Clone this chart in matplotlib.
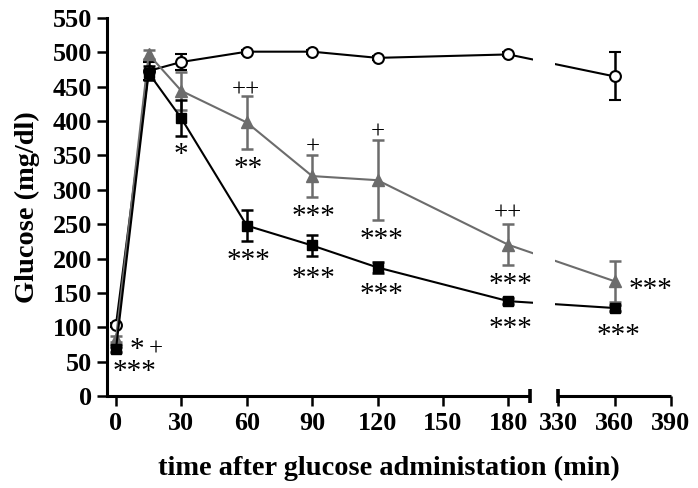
import numpy as np
import matplotlib
matplotlib.use("Agg")
import matplotlib.pyplot as plt

plt.rcParams["font.family"] = ["Liberation Serif", "DejaVu Serif"]
plt.rcParams["font.weight"] = "bold"

# Sampling times (min) and group means / SEM (mg/dl)
times = [0, 15, 30, 60, 90, 120, 180, 360]

ctrl_mean = [103, 473, 486, 501, 501, 492, 497, 465]
ctrl_err = [3, 13, 11, 3, 3, 3, 3, 35]

sq_mean = [68, 470, 404, 248, 219, 187, 138, 128]
sq_err = [4, 10, 26, 23, 15, 8, 4, 4]

tri_mean = [83, 497, 444, 398, 320, 314, 220, 167]
tri_err = [4, 6, 28, 39, 31, 58, 30, 30]

# Significance marks: (time, glucose level, text)
ann_x = [9.6, 18.3, 8.3, 29.9, 59.6, 60.8, 61.0, 90.4, 90.8, 90.8,
         120.3, 121.6, 121.6, 179.6, 181.2, 181.2, 379.0, 362.0]
ann_y = [77, 73, 45, 361, 450, 340, 207, 366, 270, 181,
         388, 237, 157, 270, 171, 108, 164, 97]
ann_txt = ["*", "+", "***", "*", "++", "**", "***", "+", "***", "***",
           "+", "***", "***", "++", "***", "***", "***", "***"]

xticks = [0, 30, 60, 90, 120, 150, 180, 330, 360, 390]
yticks = list(range(0, 551, 50))

# Broken time axis: 0-190 and 330-390 share one axes via a piecewise scale
LO, HI = 190.0, 330.0
GAP = 12.8
K = 0.863


def fwd(x):
    x = np.asarray(x, dtype=float)
    return np.where(x <= LO, x,
                    np.where(x <= HI, LO + (x - LO) * GAP / (HI - LO),
                             LO + GAP + (x - HI) * K))


def inv(u):
    u = np.asarray(u, dtype=float)
    return np.where(u <= LO, u,
                    np.where(u <= LO + GAP, LO + (u - LO) * (HI - LO) / GAP,
                             HI + (u - LO - GAP) / K))


fig = plt.figure(figsize=(6.98, 4.88), dpi=100)
ax = fig.add_axes([107 / 698, 1 - 396 / 488, (671 - 107) / 698, (396 - 18) / 488])
ax.set_xscale("function", functions=(fwd, inv))
XMIN = -4.1
ax.set_xlim(XMIN, 390)
ax.set_ylim(0, 550)

gray = "#6c6c6c"
common = dict(lw=1.5, elinewidth=1.8, capsize=4.3, capthick=1.8)

ax.errorbar(times, ctrl_mean, yerr=ctrl_err, fmt="-o", color="black",
            mfc="white", mec="black", ms=7.8, mew=1.5, zorder=3, **common)
ax.errorbar(times, tri_mean, yerr=tri_err, fmt="-^", color=gray,
            mfc=gray, mec=gray, ms=8.0, zorder=4, **common)
ax.errorbar(times, sq_mean, yerr=sq_err, fmt="-s", color="black",
            mfc="black", mec="black", ms=7.0, zorder=5, **common)

# Blank out the lines inside the axis break
ax.axvspan(205, 316, color="white", lw=0, zorder=6)

for s in ("top", "right", "bottom"):
    ax.spines[s].set_visible(False)
ax.spines["left"].set_linewidth(2.2)

xt = ax.get_xaxis_transform()
for a, b in ((XMIN, LO), (HI, 390)):
    ax.plot([a, b], [0, 0], transform=xt, color="black", lw=2.2,
            solid_capstyle="butt", clip_on=False, zorder=7)
for xb in (LO, HI):
    ax.plot([xb, xb], [-0.019, 0.019], transform=xt, color="black", lw=2.6,
            solid_capstyle="butt", clip_on=False, zorder=7)

ax.set_xticks(xticks)
ax.set_yticks(yticks)
ax.tick_params(axis="both", direction="out", length=7.2, width=1.8,
               labelsize=18.8)
ax.tick_params(axis="y", pad=3.5)
ax.tick_params(axis="x", pad=4)

# Asterisks sit high in the line box, so nudge them down a little
for x, y, t in zip(ann_x, ann_y, ann_txt):
    if "*" in t:
        size, dy = 21, -5.0
    else:
        size, dy = 18, -2.5
    ax.annotate(t, (x, y), xytext=(0, dy), textcoords="offset points",
                ha="center", va="center", fontsize=size,
                fontweight="normal", zorder=10)

ax.set_xlabel("time after glucose administation (min)", fontsize=20.4,
              fontweight="bold")
ax.set_ylabel("Glucose (mg/dl)", fontsize=20.4, fontweight="bold")
ax.xaxis.set_label_coords(0.5, -0.158)
ax.yaxis.set_label_coords(-0.118, 0.5)

fig.savefig("out.png", dpi=100)
